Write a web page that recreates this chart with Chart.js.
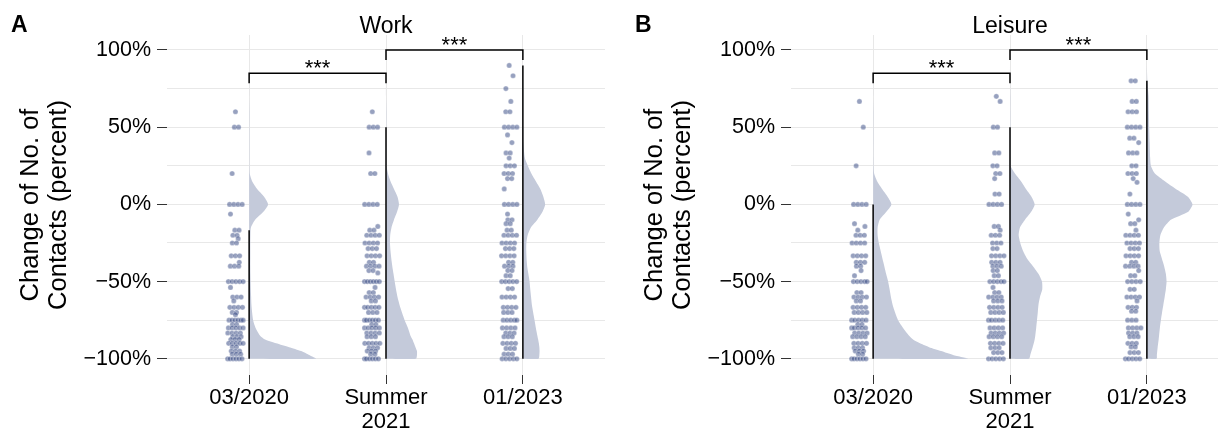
<!DOCTYPE html>
<html>
<head>
<meta charset="utf-8">
<script src="https://cdn.jsdelivr.net/npm/chart.js@4.4.1/dist/chart.umd.min.js"></script>
<style>
  html, body { margin: 0; padding: 0; background: #fff; overflow: hidden; }
  #wrap { position: relative; width: 1218px; height: 432px; overflow: hidden; }
  .panel { position: absolute; top: 0; width: 624px; height: 432px; }
  #panelA { left: 0; }
  #panelB { left: 624px; }
</style>
</head>
<body>
<div id="wrap">
  <div class="panel" id="panelA"><canvas id="workChart" width="624" height="432"></canvas></div>
  <div class="panel" id="panelB"><canvas id="leisureChart" width="624" height="432"></canvas></div>
</div>
<script>
// categories and axis ticks
const categories = ['03/2020', ['Summer', '2021'], '01/2023'];
const yTicks = [-100, -75, -50, -25, 0, 25, 50, 75, 100];

// observed answers: [value %, number of respondents at that value]
const workPoints0320 = [[60,1],[50,2],[20,1],[0,4],[-6.3,1],[-16.7,2],[-20,2],[-22.2,1],[-25,2],[-33.3,3],[-37.5,1],[-40,3],[-50,5],[-53.8,1],[-60,3],[-62.5,1],[-66.7,4],[-70,2],[-71.4,1],[-75,6],[-77.8,2],[-80,5],[-83.3,4],[-85.7,3],[-87.5,3],[-90,5],[-92.3,2],[-95,3],[-97,3],[-100,6]];
const workPoints2021 = [[60,1],[50,3],[33.3,1],[20,2],[0,4],[-14.3,1],[-16.7,2],[-20,4],[-25,4],[-28.6,3],[-33.3,4],[-37.5,2],[-40,4],[-42.9,2],[-44.4,1],[-50,6],[-53.8,1],[-57.1,2],[-60,4],[-62.5,2],[-66.7,5],[-70,3],[-75,6],[-77.8,2],[-80,5],[-83.3,4],[-85.7,3],[-90,5],[-92.9,3],[-95,3],[-97,2],[-100,6]];
const workPoints2023 = [[90,1],[83.3,1],[75,1],[66.7,1],[60,2],[50,4],[45,1],[40,1],[33.3,2],[30,1],[25,3],[20,3],[16.7,2],[10,1],[0,4],[-6.3,1],[-10,2],[-12.5,2],[-16.7,2],[-20,4],[-25,4],[-28.6,3],[-33.3,4],[-37.5,2],[-40,3],[-42.9,2],[-46.2,2],[-50,5],[-54.5,2],[-60,4],[-66.7,4],[-70,3],[-75,5],[-80,4],[-83.3,3],[-85.7,3],[-90,4],[-93.3,3],[-97,3],[-100,5]];
const leisurePoints0320 = [[66.7,1],[50,1],[25,1],[0,4],[-12.5,1],[-14.3,1],[-16.7,1],[-20,3],[-25,4],[-33.3,4],[-37.5,3],[-40,2],[-42.9,1],[-46.2,1],[-50,5],[-57.1,2],[-60,4],[-62.5,2],[-66.7,4],[-70,4],[-75,5],[-77.8,2],[-80,5],[-83.3,4],[-85.7,4],[-90,4],[-92.9,3],[-95,3],[-97,2],[-100,6]];
const leisurePoints2021 = [[70,1],[66.7,1],[50,2],[33.3,2],[25,2],[20,2],[16.7,1],[6.7,2],[0,4],[-14.3,2],[-16.7,1],[-20,3],[-25,3],[-28.6,2],[-33.3,4],[-37.5,3],[-40,3],[-42.9,2],[-46.2,2],[-50,5],[-53.8,1],[-57.1,2],[-60,4],[-62.5,3],[-66.7,4],[-70,4],[-75,5],[-80,4],[-83.3,4],[-85.7,4],[-90,4],[-92.9,3],[-96,3],[-100,5]];
const leisurePoints2023 = [[80,2],[66.7,2],[60,3],[50,4],[42.9,2],[40,1],[33.3,3],[25,2],[20,3],[16.7,1],[14.3,1],[6.7,1],[0,4],[-6.3,1],[-10,1],[-12.5,2],[-16.7,1],[-20,4],[-25,4],[-28.6,3],[-33.3,4],[-37.5,2],[-40,4],[-42.9,1],[-46.2,2],[-50,4],[-55,2],[-60,4],[-62.5,1],[-66.7,3],[-69.2,2],[-75,3],[-80,4],[-83.3,3],[-85.7,3],[-90,3],[-92.3,2],[-96,3],[-100,5]];

// density of each group, read at these levels
const densityLevels = [-100,-97.5,-95,-92.5,-90,-87.5,-85,-80,-75,-70,-65,-60,-55,-50,-45,-40,-35,-30,-25,-20,-15,-10,-5,0,5,10,15,20,25,30,40,50,60,70,80,90];
const workDensity0320 = [67,60,52,40,27,16,11,6.5,4,3,2.3,2,1.7,1.5,1.3,1.2,1.2,1.2,1.2,1.3,1.8,6,14,19,15,8,3,0.6,0.3,0.3,0.3,0.3,0.3,0,0,0];
const workDensity2021 = [30,31,31,29.5,28,26.5,24.5,22,18.7,16,13.5,11.5,10,8.7,7.5,6.3,5.3,4.5,4,4.2,5.5,8,11,13,11.5,8,4.5,2,0.5,0.3,0.3,0.3,0.3,0,0,0];
const workDensity2023 = [15.7,16.5,16.7,16.5,16,15.3,14.5,13,11.7,10.3,9,8.2,7.4,6.7,5.5,4.3,3.7,3.4,3.5,4.8,8,14.5,19.5,22.3,20.5,17.5,13,8.5,5,2,0.5,0.3,0.3,0.3,0.3,0.3];
const leisureDensity0320 = [95,80,68,56,47,40,36,30,25,22,19.5,17.8,16.5,15,13,11.2,9.3,7.5,5.7,4.5,4.5,6.5,13,18.3,14.5,9,4,1,0.4,0.3,0.3,0.3,0.3,0,0,0];
const leisureDensity2021 = [19,20.3,21.5,22.7,23.8,24.7,25.3,26.2,27,27.8,28.5,30,32.3,32,28.5,23,17,13,10.3,8.7,10,15,21,24.7,21.5,16,11,5,0.5,0.3,0.3,0.3,0.3,0.3,0,0];
const leisureDensity2023 = [9.7,10,10.4,10.8,11.3,11.8,12.2,13,14,15.2,16.5,17.8,19,19.7,19,17.3,15,12.8,12.5,13.5,17,24,41,45.7,41,29,18,8,4,3.3,2.8,2.3,2,1.7,0.5,0];

// whisker ranges [low, high] and significance brackets [from, to, height]
const workRanges = [[-100,-16.7],[-100,50],[-100,90]];
const leisureRanges = [[-100,0],[-100,50],[-100,80]];
const workBrackets = [[1,2,85],[2,3,100]];
const leisureBrackets = [[1,2,85],[2,3,100]];

const PX_PER_UNIT = 137;
const POINT_OFFSET = -13.7;
const SHIFTS = [0, 0.7, -0.6, 0.3, -0.9, 1, -0.3, 0.5, -0.7];
const FONT = '"Liberation Sans", Arial, sans-serif';
const POINT_FILL = 'rgba(48,68,128,0.5)';
const VIOLIN_FILL = '#c4cada';
const GRID = '#e8e8e8';

Chart.defaults.font.family = FONT;
Chart.defaults.color = '#000';

function jitter(cat, rows) {
  const out = [];
  rows.forEach(([v, n], r) => {
    const gap = n > 1 ? Math.min(4.2, 15 / (n - 1)) : 0;
    const shift = SHIFTS[r % SHIFTS.length] * (n === 1 ? 5.5 : 1.5);
    for (let i = 0; i < n; i++) {
      let px = POINT_OFFSET + shift + (i - (n - 1) / 2) * gap;
      px = Math.max(-21.5, Math.min(-6, px));
      out.push({x: cat + px / PX_PER_UNIT, y: v});
    }
  });
  return out;
}

function violin(cat, dens) {
  const pts = [{x: cat, y: densityLevels[0]}];
  densityLevels.forEach((v, i) => pts.push({x: cat + dens[i] / PX_PER_UNIT, y: v}));
  pts.push({x: cat, y: densityLevels[densityLevels.length - 1]});
  return pts;
}

const panelText = {
  id: 'panelText',
  afterDraw(chart, args, opts) {
    const {ctx, chartArea, scales: {x, y}} = chart;
    ctx.save();
    ctx.fillStyle = '#000';
    ctx.textBaseline = 'alphabetic';
    ctx.textAlign = 'left';
    ctx.font = 'bold 23px ' + FONT;
    ctx.fillText(opts.letter, 11, 32);
    ctx.textAlign = 'center';
    ctx.font = '23px ' + FONT;
    ctx.fillText(opts.title, (chartArea.left + chartArea.right) / 2, 33);
    ctx.font = '22px ' + FONT;
    opts.brackets.forEach(([a, b, v]) => {
      ctx.fillText('***', x.getPixelForValue((a + b) / 2), y.getPixelForValue(v) + 2);
    });
    ctx.restore();
  }
};

function makeChart(id, letter, title, pointSets, densSets, ranges, brackets) {
  const datasets = [];
  ranges.forEach(([lo, hi], i) => datasets.push({
    data: [{x: i + 1, y: lo}, {x: i + 1, y: hi}],
    borderColor: '#000', borderWidth: 1.5, pointRadius: 0, fill: false
  }));
  brackets.forEach(([a, b, v]) => datasets.push({
    data: [{x: a, y: v - 6.5}, {x: a, y: v}, {x: b, y: v}, {x: b, y: v - 6.5}],
    borderColor: '#000', borderWidth: 1.5, pointRadius: 0, fill: false
  }));
  pointSets.forEach((rows, i) => datasets.push({
    data: jitter(i + 1, rows),
    showLine: false, pointRadius: 2.6,
    pointBackgroundColor: POINT_FILL,
    pointBorderColor: 'rgba(255,255,255,0.5)', pointBorderWidth: 0.6
  }));
  densSets.forEach((dens, i) => datasets.push({
    data: violin(i + 1, dens),
    borderWidth: 0, borderColor: 'rgba(0,0,0,0)', pointRadius: 0,
    backgroundColor: VIOLIN_FILL, fill: 'shape', tension: 0.2
  }));

  return new Chart(document.getElementById(id), {
    type: 'line',
    data: {datasets},
    plugins: [panelText],
    options: {
      responsive: false,
      animation: false,
      events: [],
      layout: {padding: {left: 10, right: 19, top: 35, bottom: 0}},
      plugins: {
        legend: {display: false},
        tooltip: {enabled: false},
        panelText: {letter, title, brackets}
      },
      scales: {
        x: {
          type: 'linear', min: 0.4, max: 3.6,
          afterBuildTicks: s => { s.ticks = [1, 2, 3].map(v => ({value: v})); },
          afterFit: s => { s.height = 57; },
          border: {display: false},
          grid: {color: GRID, tickColor: '#333', tickLength: 9},
          ticks: {
            autoSkip: false, maxRotation: 0, padding: 2,
            font: {size: 22, lineHeight: 1.08},
            callback: v => categories[Math.round(v) - 1]
          }
        },
        y: {
          type: 'linear', min: -110.5, max: 109.7,
          afterBuildTicks: s => { s.ticks = yTicks.map(v => ({value: v})); },
          afterFit: s => { s.width = 157; },
          border: {display: false},
          grid: {
            color: GRID, tickLength: 10,
            tickColor: c => (c.tick && c.tick.value % 50 === 0) ? '#333' : 'rgba(0,0,0,0)'
          },
          ticks: {
            padding: 6, font: {size: 21.5},
            callback: v => v % 50 !== 0 ? '' : (v < 0 ? '\u2212' + Math.abs(v) + '%' : v + '%')
          },
          title: {
            display: true,
            text: ['Change of No. of', 'Contacts (percent)'],
            font: {size: 25.5, lineHeight: 1.1},
            padding: {top: 7, bottom: 0}
          }
        }
      }
    }
  });
}

makeChart('workChart', 'A', 'Work',
  [workPoints0320, workPoints2021, workPoints2023],
  [workDensity0320, workDensity2021, workDensity2023],
  workRanges, workBrackets);

makeChart('leisureChart', 'B', 'Leisure',
  [leisurePoints0320, leisurePoints2021, leisurePoints2023],
  [leisureDensity0320, leisureDensity2021, leisureDensity2023],
  leisureRanges, leisureBrackets);
</script>
</body>
</html>
